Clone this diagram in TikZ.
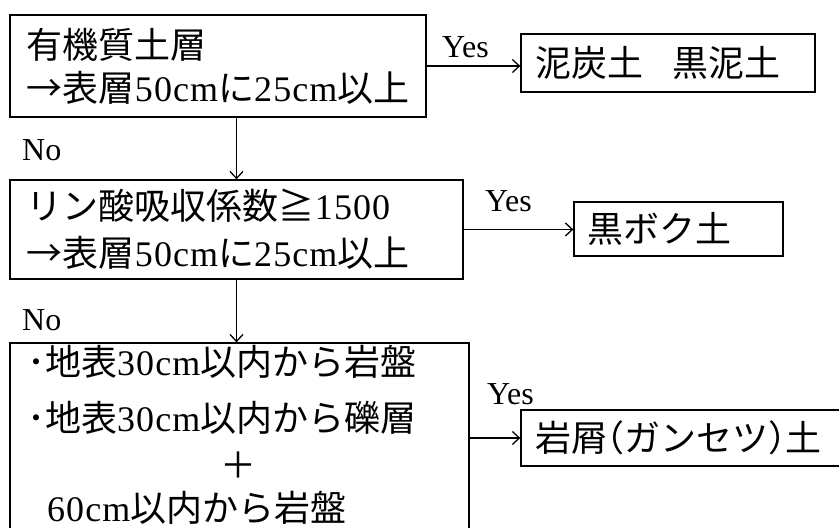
\documentclass[tikz,border=0pt]{standalone}
\usepackage{fontspec}
\setmainfont{Liberation Serif}
\newfontfamily\jp{Noto Sans CJK JP}
\newfontfamily\lt[LetterSpace=3]{Liberation Serif}
\newcommand{\lpar}{\makebox[17pt][r]{\jp （}}
\newcommand{\rpar}{\makebox[17pt][l]{\jp ）}}
\usetikzlibrary{arrows.meta}
\begin{document}
\begin{tikzpicture}[x=1pt,y=-1pt,
  box/.style={draw, line width=1.3pt, rectangle, inner ysep=0pt},
  txt/.style={font=\fontsize{36}{43}\selectfont\lt, align=left},
  lbl/.style={font=\fontsize{32}{36}\selectfont, inner sep=0pt},
  arr/.style={-{Straight Barb[length=7pt,width=13pt,line width=1.3pt]}, line width=1.3pt}]
\useasboundingbox (0,0) rectangle (839,528);
\clip (0,0) rectangle (839,528);
% first question
\node[box, txt, inner xsep=17pt, text width=382pt, minimum width=416pt, minimum height=102pt]
  (b1) at (218,66) {{\jp 有機質土層}\\{\jp →表層}50cm{\jp に}25cm{\jp 以上}};
\node[box, txt, inner xsep=14pt, text width=266pt, minimum width=294pt, minimum height=58pt]
  (r1) at (668,63) {{\jp 泥炭土\hspace{30pt}黒泥土}};
% second question
\node[box, txt, font=\fontsize{36}{47}\selectfont\lt, inner xsep=17pt, text width=419pt, minimum width=453pt, minimum height=99pt]
  (b2) at (236.5,229.5) {{\jp リン酸吸収係数≧}1500\\{\jp →表層}50cm{\jp に}25cm{\jp 以上}};
\node[box, txt, inner xsep=13pt, text width=183pt, minimum width=209pt, minimum height=54pt]
  (r2) at (678.5,229) {{\jp 黒ボク土}};
% third question
\node[box, minimum width=459pt, minimum height=217pt, inner sep=0pt] (b3) at (239.5,451.5) {};
\node[txt, anchor=west, inner sep=0pt] (l1) at (27,362) {{\jp ･地表}30cm{\jp 以内から岩盤}};
\node[txt, anchor=west, inner sep=0pt] (l2) at (27,418) {{\jp ･地表}30cm{\jp 以内から礫層}};
\node[txt, inner sep=0pt] (l3) at (238,465) {{\jp ＋}};
\node[txt, anchor=west, inner sep=0pt] (l4) at (47,508) {60cm{\jp 以内から岩盤}};
\node[box, txt, inner xsep=14pt, text width=321pt, minimum width=349pt, minimum height=56pt]
  (r3) at (695.5,438) {{\jp 岩屑\lpar ガンセツ\rpar 土}};
% connectors
\draw[arr] (b1.east) -- (b1.east -| r1.west);
\draw[arr] (b2.east) -- (b2.east -| r2.west);
\draw[arr] (r3.west -| b3.east) -- (r3.west);
\draw[arr] (b2.north |- b1.south) -- (b2.north);
\draw[arr] (b2.south) -- (b2.south |- b3.north);
% labels
\node[lbl, anchor=base west] (y1) at (442,57) {Yes};
\node[lbl, anchor=base west] (y2) at (485,211) {Yes};
\node[lbl, anchor=base west] (y3) at (487,404) {Yes};
\node[lbl, anchor=base west] (n1) at (22,160) {No};
\node[lbl, anchor=base west] (n2) at (22,330) {No};
\end{tikzpicture}
\end{document}
